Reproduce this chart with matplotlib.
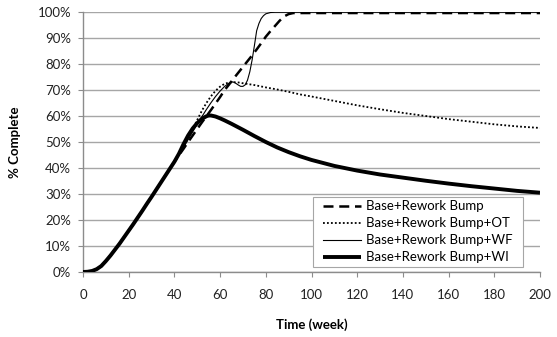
import matplotlib
matplotlib.use("Agg")
import matplotlib.pyplot as plt
from matplotlib.ticker import FuncFormatter
from matplotlib.patches import Rectangle

# Shared early part of all four runs (weeks 0-40)
t_common = [0, 2, 4, 6, 8, 10, 12, 14, 16, 18, 20, 22, 24, 26, 28, 30, 32, 34, 36, 38, 40]
v_common = [0, 0.1, 0.4, 1.1, 2.3, 4.2, 6.3, 8.6, 10.9, 13.4, 15.9, 18.4, 21.0, 23.6,
            26.3, 28.9, 31.6, 34.3, 37.0, 39.7, 42.4]

# Base+Rework Bump
t_base = [42, 44, 46, 48, 50, 52, 54, 56, 58, 60, 62, 64, 66, 68, 70, 72, 74, 76, 78, 80,
          82, 84, 86, 88, 90, 92, 100, 120, 140, 160, 180, 200]
v_base = [44.9, 47.4, 50.0, 52.5, 55.0, 57.5, 59.9, 62.3, 64.8, 67.3, 70.0, 72.2, 74.5,
          76.7, 78.9, 81.1, 83.3, 85.6, 88.0, 90.5, 92.6, 94.6, 96.6, 98.3, 99.2, 99.6,
          99.6, 99.6, 99.6, 99.6, 99.6, 99.6]

# Base+Rework Bump+OT
t_ot = [42, 44, 46, 48, 50, 52, 54, 56, 58, 60, 62, 64, 66, 68, 70, 75, 80, 85, 90, 95,
        100, 110, 120, 130, 140, 150, 160, 170, 180, 190, 200]
v_ot = [45.2, 48.2, 51.5, 55.0, 58.5, 62.0, 65.0, 67.6, 69.7, 71.3, 72.4, 72.9, 73.0,
        72.9, 72.6, 71.9, 71.0, 70.2, 69.3, 68.3, 67.5, 65.8, 64.1, 62.6, 61.2, 60.0,
        58.8, 57.8, 56.8, 56.0, 55.4]

# Base+Rework Bump+WF
t_wf = [42, 44, 46, 48, 50, 52, 54, 56, 58, 60, 62, 64, 65, 66, 67, 68, 69, 70, 71, 72,
        73, 74, 75, 76, 77, 78, 79, 80, 82, 84, 100, 150, 200]
v_wf = [45.0, 47.9, 50.9, 53.9, 56.9, 59.7, 62.5, 65.1, 67.5, 69.6, 71.4, 72.7, 73.1,
        73.0, 72.5, 71.9, 71.4, 71.4, 72.0, 73.8, 77.0, 81.5, 87.0, 92.8, 95.6, 97.5,
        98.6, 99.3, 99.8, 99.9, 99.9, 99.9, 99.9]

# Base+Rework Bump+WI
t_wi = [42, 44, 46, 48, 50, 52, 54, 55, 56, 58, 60, 62, 65, 70, 75, 80, 85, 90, 95, 100,
        110, 120, 130, 140, 150, 160, 170, 180, 190, 200]
v_wi = [45.5, 49.2, 52.5, 55.2, 57.3, 58.9, 59.9, 60.2, 60.2, 59.8, 59.1, 58.3, 57.0,
        54.7, 52.3, 50.0, 47.9, 46.1, 44.5, 43.1, 40.8, 39.0, 37.5, 36.3, 35.1, 34.0,
        33.0, 32.1, 31.2, 30.5]

labels = ["Base+Rework Bump", "Base+Rework Bump+OT", "Base+Rework Bump+WF", "Base+Rework Bump+WI"]
x_ticks = list(range(0, 201, 20))
y_ticks = list(range(0, 101, 10))

plt.rcParams['font.family'] = ['Lato', 'DejaVu Sans']

fig = plt.figure(figsize=(5.57, 3.37), dpi=100)
ax = fig.add_axes([83/557, 1-272/337, (540-83)/557, (272-12)/337])

ax.plot(t_common + t_base, v_common + v_base, color='black', lw=1.8, ls=(0, (4, 2.3)),
        label=labels[0], zorder=3)
ax.plot(t_common + t_ot, v_common + v_ot, color='black', lw=1.3, ls=(0, (1, 1.2)),
        label=labels[1], zorder=3)
ax.plot(t_common + t_wf, v_common + v_wf, color='black', lw=0.8, ls='-',
        label=labels[2], zorder=3)
ax.plot(t_common + t_wi, v_common + v_wi, color='black', lw=2.8, ls='-',
        label=labels[3], zorder=3, solid_capstyle='butt')

ax.set_xlim(0, 200)
ax.set_ylim(0, 100)
ax.set_xticks(x_ticks)
ax.set_yticks(y_ticks)
ax.yaxis.set_major_formatter(FuncFormatter(lambda v, p: f"{int(round(v))}%"))
ax.grid(axis='y', color='#a6a6a6', lw=1.0)
ax.set_axisbelow(True)
for s in ['top', 'right']:
    ax.spines[s].set_visible(False)
for s in ['left', 'bottom']:
    ax.spines[s].set_color('#8c8c8c')
    ax.spines[s].set_linewidth(1.0)
ax.tick_params(axis='x', length=3.5, color='#8c8c8c', pad=9, labelsize=9.5, labelcolor='#222222')
ax.tick_params(axis='y', length=3.5, color='#8c8c8c', pad=5, labelsize=9.5, labelcolor='#222222')

ax.set_xlabel("Time (week)", fontsize=9.5, fontweight='bold', labelpad=12)
ax.set_ylabel("% Complete", fontsize=9.5, fontweight='bold', labelpad=12)

# legend box (frame drawn separately to match the reference's proportions)
box = Rectangle((0.503, 0.018), 0.46, 0.272, transform=ax.transAxes, facecolor='white',
                edgecolor='#a6a6a6', lw=0.8, zorder=4)
ax.add_patch(box)
leg = ax.legend(loc='center', bbox_to_anchor=(0.733, 0.154), fontsize=9.5, frameon=False,
                handlelength=2.9, handletextpad=0.4, borderpad=0.0, labelspacing=0.38,
                borderaxespad=0.0)
leg.set_zorder(5)

fig.savefig("out.png", dpi=100)
